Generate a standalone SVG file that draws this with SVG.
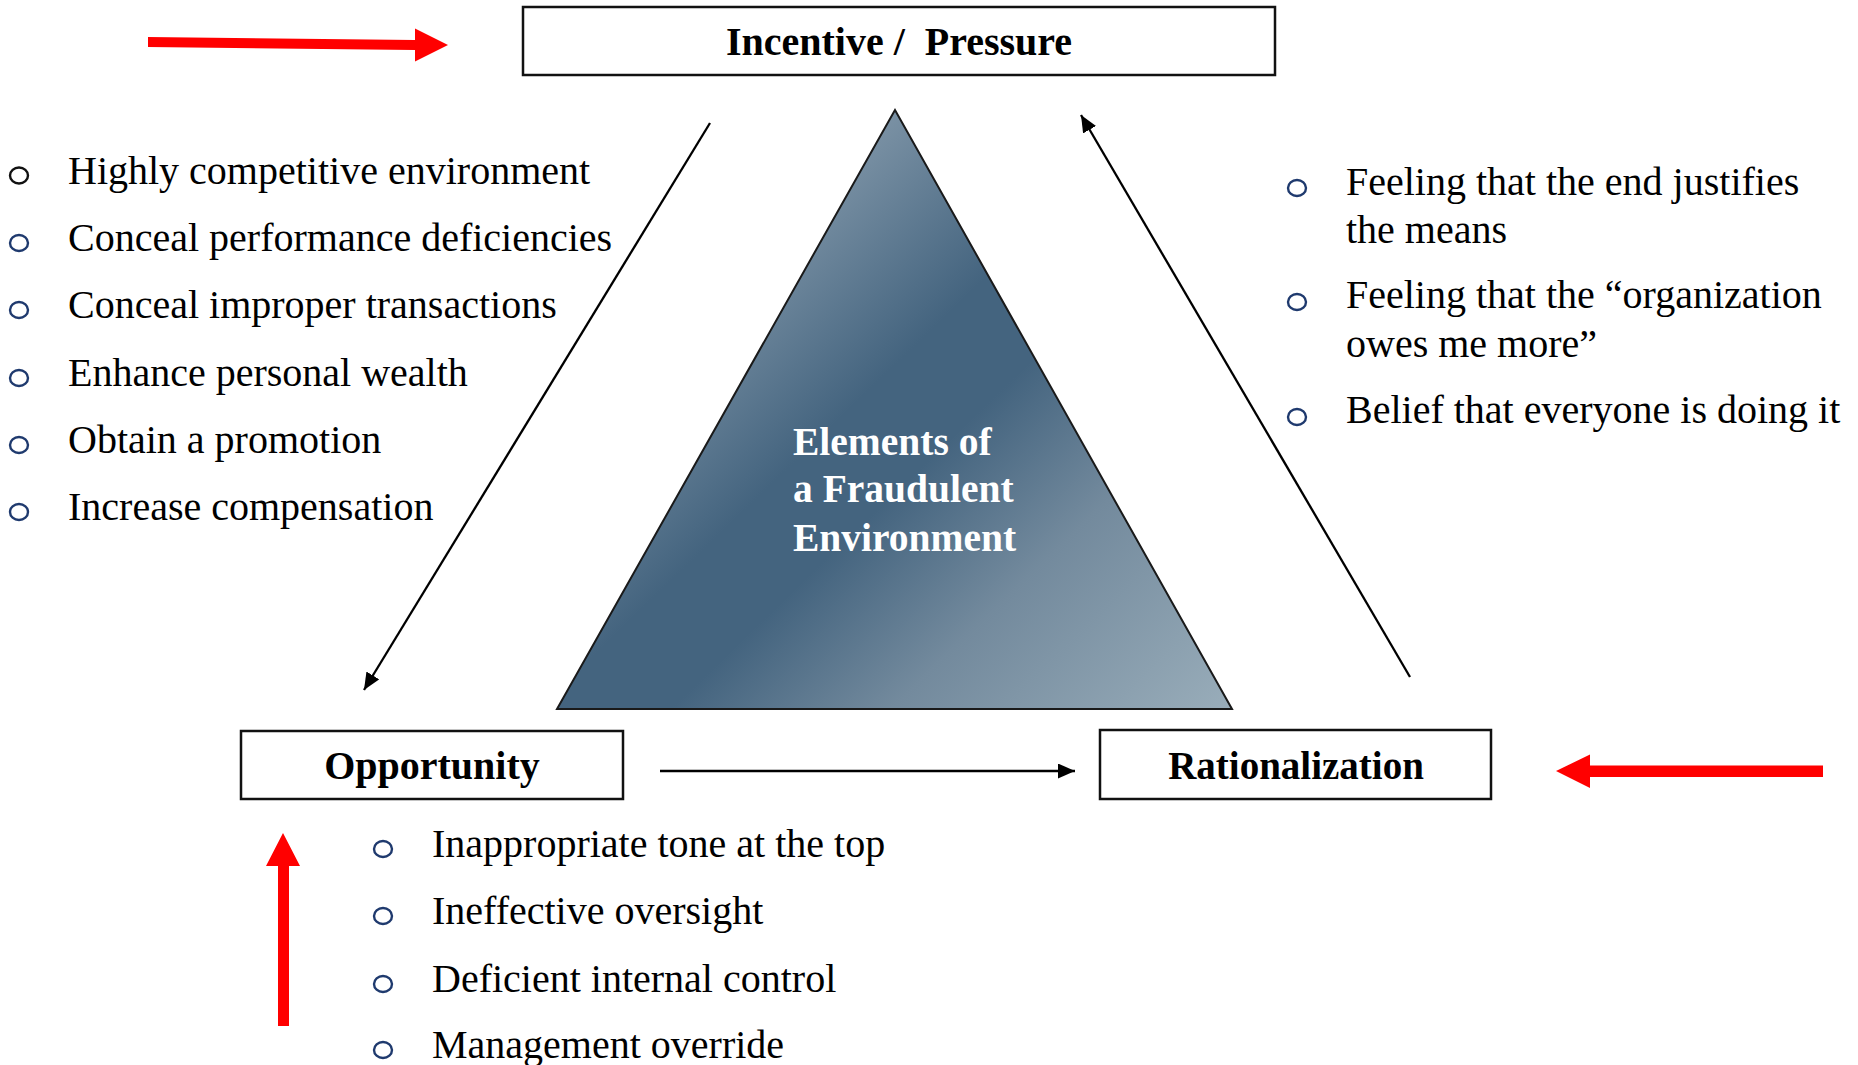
<svg xmlns="http://www.w3.org/2000/svg" width="1858" height="1065" viewBox="0 0 1858 1065">
<style>
.box{fill:#fff;stroke:#111;stroke-width:2.5}
.lbl{font-family:"Liberation Serif","Times New Roman",serif;font-weight:bold;fill:#000;text-anchor:middle}
.item{font-family:"Liberation Serif","Times New Roman",serif;font-size:40px;fill:#000}
.tri{font-family:"Liberation Serif","Times New Roman",serif;font-weight:bold;font-size:39.5px;fill:#fff}
.bul{fill:none;stroke:#1f3a6e;stroke-width:2.4}
.conn{stroke:#000;stroke-width:2.3;fill:none}
.red{fill:#ff0000}
</style>
<defs>
<marker id="ah" markerUnits="userSpaceOnUse" markerWidth="18" markerHeight="16" refX="17" refY="7.5" orient="auto">
<path d="M0,0 L17,7.5 L0,15 z" fill="#000"/>
</marker>
<linearGradient id="tg" gradientUnits="userSpaceOnUse" x1="700" y1="150" x2="1230" y2="700">
<stop offset="0" stop-color="#90a5b5"/>
<stop offset="0.14" stop-color="#7a91a4"/>
<stop offset="0.38" stop-color="#44647f"/>
<stop offset="0.5" stop-color="#44647f"/>
<stop offset="0.7" stop-color="#738a9d"/>
<stop offset="1" stop-color="#98acb9"/>
</linearGradient>
</defs>

<g id="triangle">
<polygon points="895,110 557,709 1232,709" fill="url(#tg)" stroke="#1a1a1a" stroke-width="2"/>
<text class="tri" x="793" y="455">Elements of</text>
<text class="tri" x="793" y="502">a Fraudulent</text>
<text class="tri" x="793" y="551">Environment</text>
</g>

<g id="incentive">
<rect class="box" x="523" y="7" width="752" height="68"/>
<text class="lbl" x="899" y="55" font-size="40" xml:space="preserve">Incentive /  Pressure</text>
</g>

<g id="opportunity">
<rect class="box" x="241" y="731" width="382" height="68"/>
<text class="lbl" x="432" y="779" font-size="40">Opportunity</text>
</g>

<g id="rationalization">
<rect class="box" x="1100" y="730" width="391" height="69"/>
<text class="lbl" x="1296" y="779" font-size="39">Rationalization</text>
</g>

<g id="connectors">
<line class="conn" x1="710" y1="123" x2="364" y2="690" marker-end="url(#ah)"/>
<line class="conn" x1="1410" y1="677" x2="1081" y2="115" marker-end="url(#ah)"/>
<line class="conn" x1="660" y1="771" x2="1075" y2="771" marker-end="url(#ah)"/>
</g>

<g id="red-arrows">
<polygon class="red" points="148,37 415,40 415,28.5 448,45 415,61.5 415,50 148,47"/>
<polygon class="red" points="1556,771 1590,754.5 1590,765.5 1823,765.5 1823,777 1590,777 1590,788"/>
<polygon class="red" points="283,833 300,866 289,866 289,1026 278,1026 278,866 266,866"/>
</g>

<g id="incentive-list">
<ellipse cx="19" cy="175.5" rx="9" ry="8" fill="none" stroke="#111" stroke-width="2.4"/>
<ellipse class="bul" cx="19" cy="243" rx="9" ry="8"/>
<ellipse class="bul" cx="19" cy="310" rx="9" ry="8"/>
<ellipse class="bul" cx="19" cy="378" rx="9" ry="8"/>
<ellipse class="bul" cx="19" cy="445" rx="9" ry="8"/>
<ellipse class="bul" cx="19" cy="512" rx="9" ry="8"/>
<text class="item" x="68" y="184">Highly competitive environment</text>
<text class="item" x="68" y="251">Conceal performance deficiencies</text>
<text class="item" x="68" y="318">Conceal improper transactions</text>
<text class="item" x="68" y="386">Enhance personal wealth</text>
<text class="item" x="68" y="453">Obtain a promotion</text>
<text class="item" x="68" y="520">Increase compensation</text>
</g>

<g id="rationalization-list">
<ellipse class="bul" cx="1297" cy="188" rx="9" ry="8"/>
<ellipse class="bul" cx="1297" cy="302" rx="9" ry="8"/>
<ellipse class="bul" cx="1297" cy="417" rx="9" ry="8"/>
<text class="item" x="1346" y="195">Feeling that the end justifies</text>
<text class="item" x="1346" y="243">the means</text>
<text class="item" x="1346" y="308">Feeling that the “organization</text>
<text class="item" x="1346" y="357">owes me more”</text>
<text class="item" x="1346" y="423">Belief that everyone is doing it</text>
</g>

<g id="opportunity-list">
<ellipse class="bul" cx="383" cy="849" rx="9" ry="8"/>
<ellipse class="bul" cx="383" cy="916" rx="9" ry="8"/>
<ellipse class="bul" cx="383" cy="984" rx="9" ry="8"/>
<ellipse class="bul" cx="383" cy="1050" rx="9" ry="8"/>
<text class="item" x="432" y="857">Inappropriate tone at the top</text>
<text class="item" x="432" y="924">Ineffective oversight</text>
<text class="item" x="432" y="992">Deficient internal control</text>
<text class="item" x="432" y="1058">Management override</text>
</g>
</svg>
